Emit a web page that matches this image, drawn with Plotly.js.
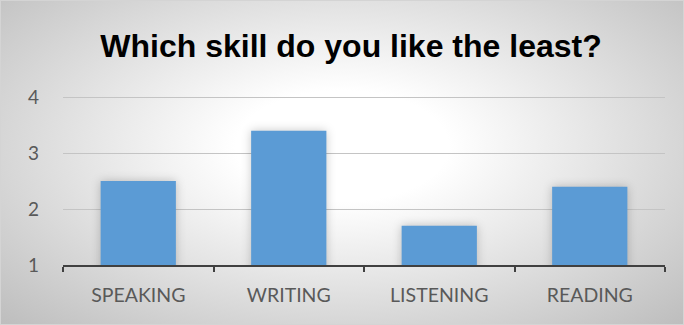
<!DOCTYPE html>
<html><head><meta charset="utf-8">
<script src="https://cdn.plot.ly/plotly-3.0.1.min.js"></script>
<style>
html,body{margin:0;padding:0;background:#fff;}
#chart{width:684px;height:325px;outline:1px solid #d4d4d4;outline-offset:-1px;
background:radial-gradient(ellipse farthest-corner at 50% 45%, #ffffff 0%, #ffffff 22%, #bdbdbd 100%);}
.bars path{filter:drop-shadow(0 0 5px rgba(0,0,0,0.22));}
</style></head><body><div id="chart"></div>
<script>
const categories = ["SPEAKING", "WRITING", "LISTENING", "READING"];
const values = [2.5, 3.4, 1.7, 2.4];
const yTickVals = [1, 2, 3, 4];
const yTickText = ["1", "2", "3", "4"];
const chartTitle = "Which skill do you like the least?";

const trace = {
  type: "bar",
  x: categories,
  y: values,
  marker: {color: "#5B9BD5"},
  hoverinfo: "none"
};

const layout = {
  width: 684, height: 325,
  paper_bgcolor: "rgba(0,0,0,0)",
  plot_bgcolor: "rgba(0,0,0,0)",
  margin: {l: 63, r: 19, t: 96, b: 60},
  bargap: 0.5,
  showlegend: false,
  title: {
    text: chartTitle,
    font: {family: "Liberation Sans, Arial, sans-serif", size: 32, color: "#000", weight: "bold"},
    x: 351/684, xref: "container", xanchor: "center", y: 1 - 46/325, yanchor: "middle", yref: "container"
  },
  xaxis: {
    type: "category",
    tickson: "boundaries",
    ticks: "outside", ticklen: 5, tickwidth: 2, tickcolor: "#404040",
    showline: true, linecolor: "#404040", linewidth: 2,
    showgrid: false,
    tickfont: {family: "Lato, Open Sans, sans-serif", size: 19.5, color: "#595959"},
    ticklabelstandoff: 12
  },
  yaxis: {
    range: [1, 4.02],
    tickvals: yTickVals, ticktext: yTickText,
    showgrid: true, gridcolor: "#c4c4c4", gridwidth: 1,
    zeroline: false, showline: false, ticks: "",
    tickfont: {family: "Lato, Open Sans, sans-serif", size: 19, color: "#595959"},
    ticklabelstandoff: 23
  }
};

Plotly.newPlot("chart", [trace], layout, {displayModeBar: false, staticPlot: true});
</script>
</body></html>
